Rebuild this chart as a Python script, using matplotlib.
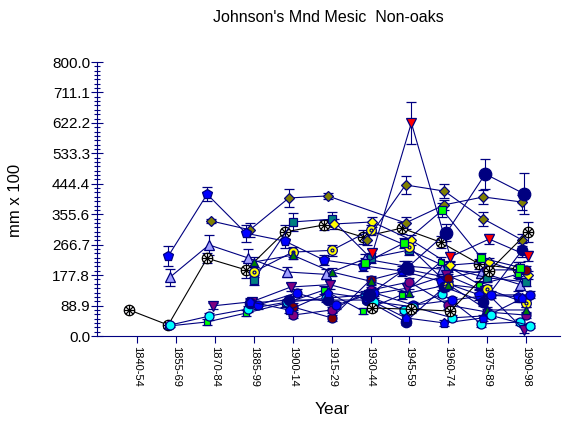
import numpy as np
import matplotlib.pyplot as plt
from matplotlib.path import Path
from matplotlib.ticker import FixedLocator, AutoMinorLocator

plt.rcParams['font.family'] = ['Liberation Sans', 'DejaVu Sans']

N = np.nan
periods = ['1840-54', '1855-69', '1870-84', '1885-99', '1900-14', '1915-29',
           '1930-44', '1945-59', '1960-74', '1975-89', '1990-98']

# mean ring width (mm x 100) per period, NaN = no samples
blk1 = [76, 32, 227, 193, 304, 324, 289, 315, 274, 210, 195]
blk1_e = [7, 5, 15, 25, 20, 15, 20, 18, 18, 15, 20]
blk2 = [N, N, N, N, N, N, 82, 78, 73, 190, 304]
blk2_e = [N, N, N, N, N, N, 10, 10, 8, 15, 30]
oliv1 = [N, N, 336, 310, 403, 409, N, 330, 383, 406, 391]
oliv1_e = [N, N, 6, 20, 25, 8, N, 18, 15, 20, 22]
oliv2 = [N, N, N, N, N, N, 280, 441, 423, 342, 280]
oliv2_e = [N, N, N, N, N, N, 15, 25, 20, 20, 18]
pent1 = [N, 233, 414, 300, 277, 222, 205, 190, 160, 120, 115]
pent1_e = [N, 30, 20, 25, 20, 15, 15, 15, 15, 15, 15]
tri1 = [N, 172, 266, 228, 187, 180, 225, 205, 195, 185, 150]
tri1_e = [N, 25, 30, 25, 15, 15, 15, 15, 15, 15, 15]
teal1 = [N, N, N, 164, 333, 341, 228, 251, 199, 170, 158]
teal1_e = [N, N, N, 15, 25, 20, 15, 15, 12, 12, 12]
lime1 = [N, 29, 41, 67, 95, 134, 73, 120, 216, 150, 181]
lime1_e = [N, 5, 8, 10, 10, 12, 10, 12, 15, 12, 12]
lime2 = [N, N, N, N, N, N, 213, 271, 368, 228, 200]
lime2_e = [N, N, N, N, N, N, 15, 15, 20, 15, 15]
cyan1 = [N, 32, 58, 79, 99, 110, 120, 76, 123, 35, 41]
cyan1_e = [N, 5, 10, 10, 10, 10, 10, 10, 10, 8, 8]
cyan2 = [N, N, N, N, N, N, 100, 85, 53, 60, 30]
cyan2_e = [N, N, N, N, N, N, 10, 10, 8, 8, 8]
pv1 = [N, N, 88, 100, 143, 150, 120, 140, 178, 130, 18]
pv1_e = [N, N, 8, 10, 12, 12, 10, 12, 12, 12, 8]
red1 = [N, N, N, N, N, N, 242, 622, 231, 283, 234]
red1_e = [N, N, N, N, N, N, 12, 62, 15, 15, 15]
navy1 = [N, N, N, N, N, N, 120, 200, 301, 473, 415]
navy1_e = [N, N, N, N, N, N, 15, 20, 25, 45, 60]
navy2 = [N, N, N, 96, 105, 105, 105, 41, 143, 100, 251]
navy2_e = [N, N, N, 12, 12, 10, 10, 10, 12, 12, 20]
ydia = [N, N, N, N, N, 327, 333, 280, 207, 216, 178]
ydia_e = [N, N, N, N, N, 15, 15, 15, 12, 12, 12]
ycirc = [N, N, N, 187, 245, 250, 309, 260, 150, 137, 96]
ycirc_e = [N, N, N, 15, 15, 15, 15, 15, 12, 12, 10]
maroon1 = [N, N, N, N, 85, 53, 164, 193, 170, 193, 193]
maroon1_e = [N, N, N, N, 10, 8, 12, 12, 12, 12, 12]
purp1 = [N, N, N, N, 61, 76, 134, 158, 90, 70, 61]
purp1_e = [N, N, N, N, 8, 8, 10, 10, 10, 8, 8]
blue1 = [N, N, N, 90, 126, 90, 126, 90, 105, 120, 120]
blue1_e = [N, N, N, 10, 10, 10, 10, 10, 10, 10, 10]
blue2 = [N, N, N, 100, 76, 126, 110, 53, 38, 53, 110]
blue2_e = [N, N, N, 10, 10, 10, 10, 8, 8, 8, 10]
gtri = [N, N, N, 216, 236, 187, 160, 126, 150, 76, 76]
gtri_e = [N, N, N, 15, 12, 12, 12, 10, 10, 8, 8]

NAVY = '#000080'

# circle with a crosshair, drawn as one marker path
_d = 0.7
cross_circle = Path.make_compound_path(
    Path.unit_circle(),
    Path([(-1, 0), (1, 0), (0, -1), (0, 1),
          (-_d, -_d), (_d, _d), (-_d, _d), (_d, -_d)],
         [Path.MOVETO, Path.LINETO] * 4),
)
# circle with a dot in the middle
dot_circle = Path.make_compound_path(
    Path.unit_circle(),
    Path.circle((0, 0), 0.3),
)

# values, errors, marker, face, edge, line colour, size, x shift
series = [
    (blk1, blk1_e, cross_circle, 'white', 'black', 'black', 7.5, -0.2),
    (oliv1, oliv1_e, 'D', '#808000', NAVY, NAVY, 5.5, -0.1),
    (pent1, pent1_e, 'p', '#0000FF', NAVY, NAVY, 7, -0.2),
    (tri1, tri1_e, '^', '#A0A0FF', NAVY, NAVY, 6.5, -0.15),
    (teal1, teal1_e, 's', '#008080', NAVY, NAVY, 5.5, 0.0),
    (lime1, lime1_e, 's', '#00FF00', NAVY, NAVY, 5, -0.2),
    (cyan1, cyan1_e, 'o', '#00FFFF', NAVY, NAVY, 6.5, -0.15),
    (pv1, pv1_e, 'v', '#800080', NAVY, NAVY, 6.5, -0.05),
    (navy2, navy2_e, 'o', NAVY, NAVY, NAVY, 7.5, -0.1),
    (ydia, ydia_e, 'D', '#FFFF00', NAVY, NAVY, 5, 0.05),
    (ycirc, ycirc_e, dot_circle, '#FFFF00', NAVY, NAVY, 7, 0.0),
    (maroon1, maroon1_e, 'o', '#800000', NAVY, NAVY, 6.5, 0.0),
    (purp1, purp1_e, 'o', '#800080', NAVY, NAVY, 6.5, 0.0),
    (blue1, blue1_e, 'o', '#0000FF', NAVY, NAVY, 6.5, 0.1),
    (blue2, blue2_e, 'p', '#0000FF', NAVY, NAVY, 6.5, -0.1),
    (gtri, gtri_e, '^', '#008000', NAVY, NAVY, 5.5, 0.0),
    (cyan2, cyan2_e, 'o', '#00FFFF', NAVY, NAVY, 6.5, 0.1),
    (lime2, lime2_e, 's', '#00FF00', NAVY, NAVY, 5.5, -0.15),
    (oliv2, oliv2_e, 'D', '#808000', NAVY, NAVY, 5.5, -0.1),
    (red1, red1_e, 'v', '#FF0000', NAVY, NAVY, 6.5, 0.05),
    (navy1, navy1_e, 'o', NAVY, NAVY, NAVY, 9, -0.05),
    (blk2, blk2_e, cross_circle, 'white', 'black', 'black', 7.5, 0.05),
]

fig = plt.figure(figsize=(5.73, 4.34), dpi=100)
ax = fig.add_axes([97 / 573, 1 - 336 / 434, 463 / 573, 274 / 434])

pos = np.arange(len(periods))
for vals, errs, mk, face, edge, lc, ms, shift in series:
    v = np.array(vals, dtype=float)
    e = np.array(errs, dtype=float)
    ok = ~np.isnan(v)
    ax.errorbar(pos[ok] + shift, v[ok], yerr=np.nan_to_num(e[ok]), fmt='-',
                marker=mk, color=lc, lw=0.8, mfc=face, mec=edge, mew=0.9,
                ms=ms, ecolor=NAVY, elinewidth=0.8, capsize=3.5,
                capthick=0.8)

ax.set_xlim(-1.03, 10.87)
ax.set_ylim(0, 800)

yt = [800 * k / 9 for k in range(10)]
ax.yaxis.set_major_locator(FixedLocator(yt))
ax.set_yticklabels([f'{t:.1f}' for t in yt], fontsize=11)
ax.yaxis.set_minor_locator(AutoMinorLocator(7))
ax.tick_params(axis='y', which='major', direction='inout', length=8,
               width=0.8, color=NAVY, pad=1)
ax.tick_params(axis='y', which='minor', direction='inout', length=5,
               width=0.8, color=NAVY)

ax.set_xticks(pos)
ax.set_xticklabels(periods, rotation=270, fontsize=8, ha='center', va='top')
ax.tick_params(axis='x', which='major', direction='out', length=5,
               width=0.8, color=NAVY, pad=2)

for s in ['top', 'right']:
    ax.spines[s].set_visible(False)
for s in ['left', 'bottom']:
    ax.spines[s].set_color(NAVY)
    ax.spines[s].set_linewidth(0.8)

fig.text(328 / 573, 1 - 18 / 434, "Johnson's Mnd Mesic  Non-oaks",
         ha='center', va='center', fontsize=11.5)
fig.text(16 / 573, 1 - 200 / 434, 'mm x 100', rotation=90,
         ha='center', va='center', fontsize=12)
fig.text(332 / 573, 1 - 410 / 434, 'Year', ha='center', va='center',
         fontsize=12.5)

fig.savefig('out.png', dpi=100)
